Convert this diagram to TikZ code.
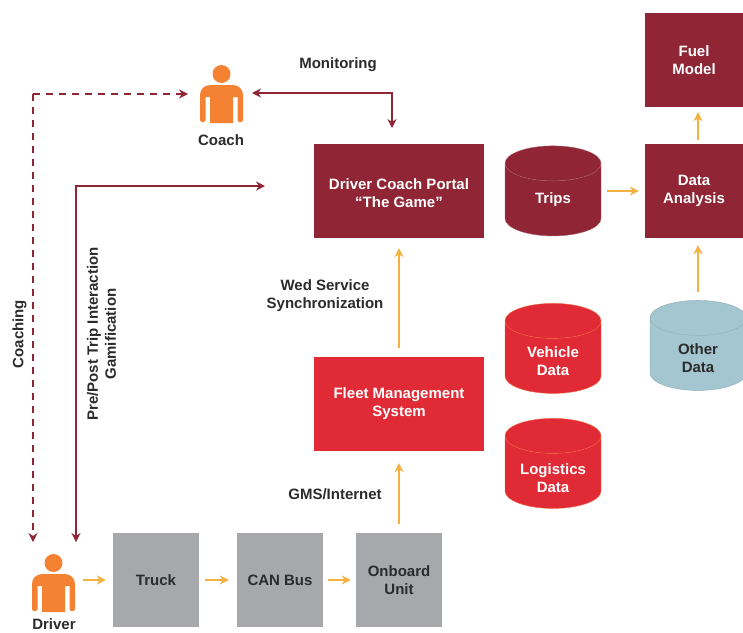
\documentclass[tikz,border=0pt]{standalone}
\usepackage{fontspec}
\setmainfont{Liberation Sans}
\usetikzlibrary{shapes.geometric,arrows.meta}
\definecolor{wine}{HTML}{8F2535}
\definecolor{signal}{HTML}{E02B36}
\definecolor{signalline}{HTML}{F2603C}
\definecolor{slate}{HTML}{A6A8AB}
\definecolor{mist}{HTML}{A4C6D0}
\definecolor{amber}{HTML}{F6B042}
\definecolor{skin}{HTML}{F58232}
\definecolor{ink}{HTML}{2B2B2D}
\tikzset{
    txt/.style={font=\bfseries\fontsize{15}{18}\selectfont,align=center,text=ink,inner sep=0pt},
    block/.style={txt,rectangle,inner sep=0pt,minimum height=94pt},
    wineblock/.style={block,fill=wine,text=white},
    redblock/.style={block,fill=signal,text=white},
    greyblock/.style={block,fill=slate,minimum width=86pt},
    drum/.style={cylinder,shape border rotate=90,aspect=1,inner sep=0pt,text width=35pt,minimum width=96pt,minimum height=90pt,cylinder uses custom fill},
    flow/.style={draw=amber,line width=1.4pt,-{Stealth[length=9pt,width=9pt]}},
    link/.style={draw=wine,line width=1.3pt,-{Stealth[length=9pt,width=9pt]}},
    figure/.style={minimum width=43pt,minimum height=58pt,inner sep=0pt},
    person/.pic={
        \fill[skin] (0,-20) circle (9);
        \fill[skin] (-21.5,1) .. controls (-21.5,-5) and (-17,-9) .. (-11,-9) -- (11,-9)
            .. controls (17,-9) and (21.5,-5) .. (21.5,1) [rounded corners=2pt] -- (21.5,28)
            -- (16,28) [sharp corners] -- (16,3) -- (11.5,3) -- (11.5,29) -- (-11.5,29)
            -- (-11.5,3) -- (-16,3) [rounded corners=2pt] -- (-16,28) -- (-21.5,28) [sharp corners] -- cycle;
    }
}
\begin{document}
\begin{tikzpicture}[x=1pt,y=-1pt]
\useasboundingbox (0,0) rectangle (743,632);
% People
\node[figure] (coach) at (221.5,94){};
\pic at (coach) {person};
\node[figure] (driver) at (53.5,583){};
\pic at (driver) {person};
\node[txt] (coachname) at (221,140){Coach};
\node[txt] (drivername) at (54,624){Driver};
% Blocks
\node[wineblock,minimum width=170pt,label={[txt,text=white,yshift=-2pt]center:Driver Coach Portal\\“The Game”}] (portal) at (399,191){};
\node[wineblock,minimum width=98pt] (fuel) at (694,60){Fuel\\Model};
\node[wineblock,minimum width=98pt] (analysis) at (694,191){Data\\Analysis};
\node[redblock,minimum width=170pt] (fleet) at (399,404){Fleet Management\\System};
\node[greyblock] (truck) at (156,580){Truck};
\node[greyblock] (can) at (280,580){CAN Bus};
\node[greyblock] (onboard) at (399,580){Onboard\\Unit};
% Data stores
\node[drum,draw=wine!75!white,cylinder body fill=wine,cylinder end fill=wine,label={[txt,text=white]center:Trips}] (trips) at (553,199.75){};
\node[drum,draw=signalline,cylinder body fill=signal,cylinder end fill=signal,label={[txt,text=white,yshift=-3.75pt]center:Vehicle\\Data}] (vehicle) at (553,357.25){};
\node[drum,draw=signalline,cylinder body fill=signal,cylinder end fill=signal,label={[txt,text=white,yshift=-5.75pt]center:Logistics\\Data}] (logistics) at (553,472.25){};
\node[drum,draw=mist!85!black,cylinder body fill=mist,cylinder end fill=mist,label={[txt,yshift=-3.75pt]center:Other\\Data}] (other) at (698,354.25){};
% Labels
\node[txt] (monitoring) at (338,64.5){Monitoring};
\node[txt] (sync) at (325,295.5){Wed Service\\Synchronization};
\node[txt] (gms) at (335,494){GMS/Internet};
\node[txt,rotate=90] (coaching) at (19.5,334){Coaching};
\node[txt,rotate=90] (pretrip) at (101.5,334){Pre/Post Trip Interaction\\Gamification};
% Free ends of the long connectors
\coordinate (coachleft) at (188,94);
\coordinate (coachright) at (252,93);
\coordinate (portaltop) at (392,128);
\coordinate (portalleft) at (265,186);
\coordinate (driverleft) at (33,542);
\coordinate (driverright) at (76,542);
% Connection
\draw[link,dash pattern=on 7pt off 6pt] (driverleft |- coachleft) -- (coachleft);
\draw[link,dash pattern=on 7pt off 6pt] (driverleft |- coachleft) -- (driverleft);
\draw[link,{Stealth[length=9pt,width=9pt]}-{Stealth[length=9pt,width=9pt]}] (coachright) -| (portaltop);
\draw[link,{Stealth[length=9pt,width=9pt]}-{Stealth[length=9pt,width=9pt]}] (portalleft) -| (driverright);
\draw[flow,shorten <=8pt,shorten >=7pt] (driver.east |- truck.west) -- (truck.west);
\draw[flow,shorten <=6pt,shorten >=8pt] (truck) -- (can);
\draw[flow,shorten <=5pt,shorten >=5pt] (can) -- (onboard);
\draw[flow,shorten <=9pt,shorten >=12pt] (onboard) -- (fleet);
\draw[flow,shorten <=9pt,shorten >=10pt] (fleet) -- (portal);
\draw[flow,shorten <=6pt,shorten >=6pt] (trips.east |- analysis.west) -- (analysis.west);
\draw[flow,shorten <=4pt,shorten >=5pt] (analysis.north -| other.top) -- (fuel.south -| other.top);
\draw[flow,shorten <=8pt,shorten >=7pt] (other.top) -- (analysis.south -| other.top);
\end{tikzpicture}
\end{document}
